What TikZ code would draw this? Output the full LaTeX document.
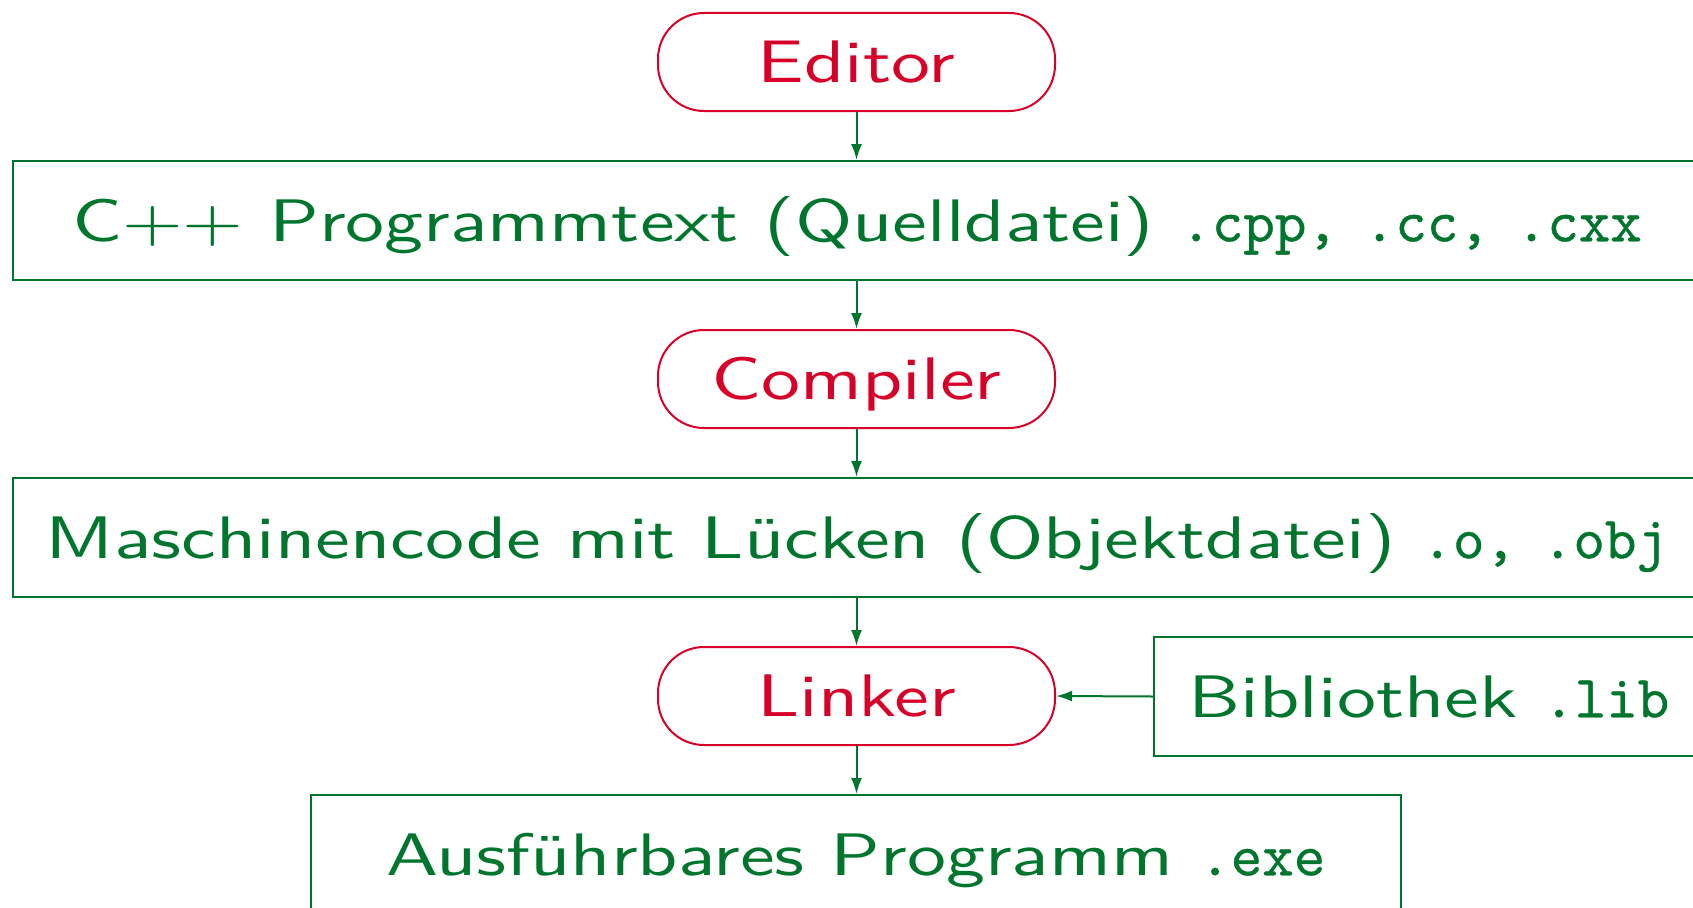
\documentclass[tikz,border=0pt]{standalone}
\usepackage{fontspec}
\setsansfont{lmsans10-regular.otf}[FakeStretch=1.3]
\setmonofont{lmmono10-regular.otf}[FakeBold=0.6]
\usetikzlibrary{arrows.meta}
\definecolor{dgreen}{RGB}{0,117,45}
\definecolor{dred}{RGB}{215,0,40}
\begin{document}
\begin{tikzpicture}[x=1pt,y=-1pt,
  every node/.style={font=\sffamily\fontsize{60}{72}\selectfont, inner sep=0pt, text height=41.6pt, text depth=0pt},
  stadium/.style={draw=dred, line width=2pt, text=dred, rounded corners=46pt, minimum width=397pt, minimum height=98pt},
  filebox/.style={draw=dgreen, line width=2pt, text=dgreen, minimum height=119pt},
  flow/.style={draw=dgreen, line width=2pt, -{Latex[length=16pt,width=11pt]}}]
\useasboundingbox (0,0) rectangle (1693,907);
\node[stadium] (editor) at (856.5,62) {Editor};
\node[filebox, minimum width=1688pt] (src) at (857,220.5) {C++ Programmtext (Quelldatei) \texttt{.cpp,} \texttt{.cc,} \texttt{.cxx}};
\node[stadium] (compiler) at (856.5,379) {Compiler};
\node[filebox, minimum width=1688pt] (obj) at (857,537.5) {Maschinencode mit Lücken (Objektdatei) \texttt{.o,} \texttt{.obj}};
\node[stadium] (linker) at (856.5,696) {Linker};
\node[filebox, minimum width=550pt] (lib) at (1429,696.5) {Bibliothek \texttt{.lib}};
\node[filebox, minimum width=1090pt] (exe) at (856,854.5) {Ausführbares Programm \texttt{.exe}};
\draw[flow] (editor.south) -- (editor.south |- src.north);
\draw[flow] (compiler.south |- src.south) -- (compiler.north);
\draw[flow] (compiler.south) -- (compiler.south |- obj.north);
\draw[flow] (linker.north |- obj.south) -- (linker.north);
\draw[flow] (linker.south) -- (linker.south |- exe.north);
\draw[flow] (lib.west) -- (linker.east);
\end{tikzpicture}
\end{document}
